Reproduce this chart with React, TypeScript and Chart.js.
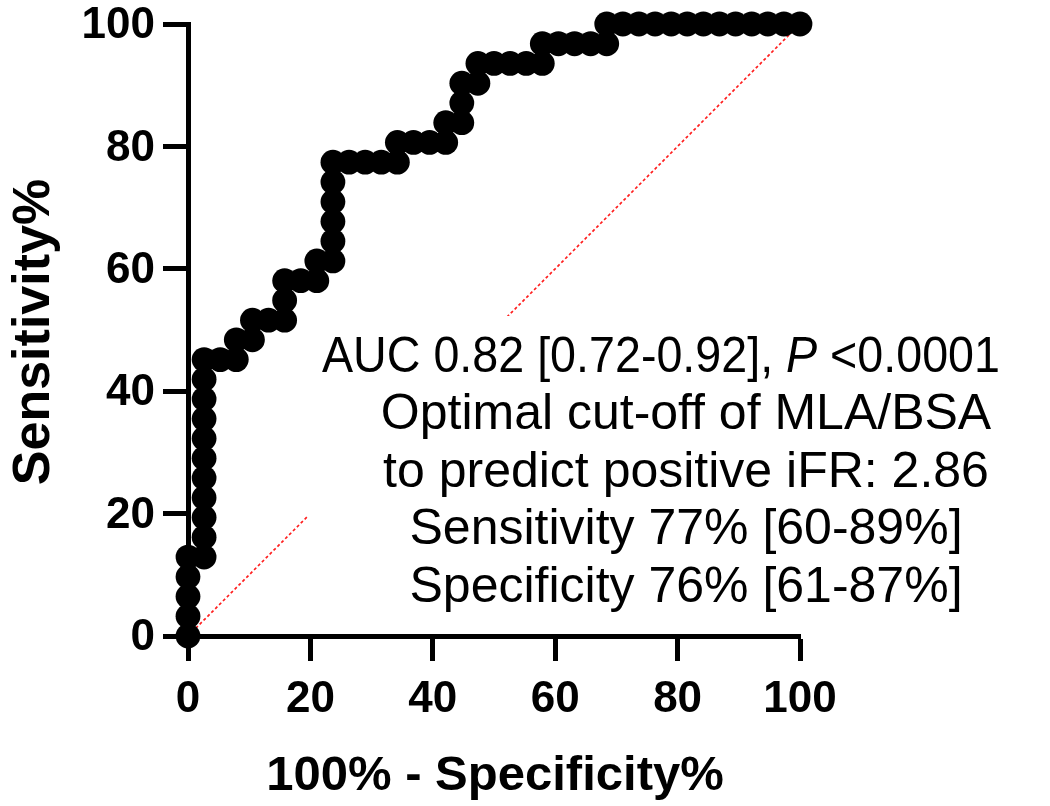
import React, { useEffect, useRef } from "react";
import { Chart, registerables } from "chart.js";

Chart.register(...registerables);

// 100% - Specificity% (x) for each ROC point
const fprPercent = [
  0, 0, 0, 0, 0,
  2.63, 2.63, 2.63, 2.63, 2.63, 2.63, 2.63, 2.63, 2.63, 2.63, 2.63,
  5.26, 7.89, 7.89, 10.53, 10.53, 13.16, 15.79, 15.79, 15.79,
  18.42, 21.05, 21.05,
  23.68, 23.68, 23.68, 23.68, 23.68, 23.68,
  26.32, 28.95, 31.58, 34.21, 34.21, 36.84, 39.47, 42.11, 42.11,
  44.74, 44.74, 44.74, 47.37, 47.37, 50, 52.63, 55.26, 57.89, 57.89,
  60.53, 63.16, 65.79, 68.42, 68.42,
  71.05, 73.68, 76.32, 78.95, 81.58, 84.21, 86.84, 89.47, 92.11, 94.74, 97.37, 100,
];

// Sensitivity% (y) for each ROC point
const sensPercent = [
  0, 3.23, 6.45, 9.68, 12.9,
  12.9, 16.13, 19.35, 22.58, 25.81, 29.03, 32.26, 35.48, 38.71, 41.94, 45.16,
  45.16, 45.16, 48.39, 48.39, 51.61, 51.61, 51.61, 54.84, 58.06,
  58.06, 58.06, 61.29,
  61.29, 64.52, 67.74, 70.97, 74.19, 77.42,
  77.42, 77.42, 77.42, 77.42, 80.65, 80.65, 80.65, 80.65, 83.87,
  83.87, 87.1, 90.32, 90.32, 93.55, 93.55, 93.55, 93.55, 93.55, 96.77,
  96.77, 96.77, 96.77, 96.77, 100,
  100, 100, 100, 100, 100, 100, 100, 100, 100, 100, 100, 100,
];

// line of identity (chance)
const chanceLine = [0, 100];

const axisMin = 0;
const axisMax = 100;
const tickStep = 20;

const xTitle = "100% - Specificity%";
const yTitle = "Sensitivity%";

const annotationFirstLine: [string, boolean][] = [
  ["AUC 0.82 [0.72-0.92], ", false],
  ["P", true],
  [" <0.0001", false],
];
const annotationLines = [
  "Optimal cut-off of MLA/BSA",
  "to predict positive iFR: 2.86",
  "Sensitivity 77% [60-89%]",
  "Specificity 76% [61-87%]",
];

const FONT = "'Liberation Sans', Arial, Helvetica, sans-serif";

const decorPlugin = {
  id: "decor",
  beforeDatasetsDraw(chart: any) {
    const ctx = chart.ctx as CanvasRenderingContext2D;
    const xs = chart.scales.x;
    const ys = chart.scales.y;
    // chance diagonal
    ctx.save();
    ctx.strokeStyle = "#ff1f1f";
    ctx.lineWidth = 1.7;
    ctx.setLineDash([3, 2.5]);
    ctx.beginPath();
    ctx.moveTo(xs.getPixelForValue(chanceLine[0]), ys.getPixelForValue(chanceLine[0]));
    ctx.lineTo(xs.getPixelForValue(chanceLine[1]), ys.getPixelForValue(chanceLine[1]));
    ctx.stroke();
    ctx.restore();

    // annotation box (white background)
    ctx.save();
    ctx.fillStyle = "#ffffff";
    ctx.fillRect(308, 316, 1050 - 308, 624 - 316);
    ctx.fillStyle = "#000";
    ctx.textBaseline = "alphabetic";
    const size = 50;
    const reg = `${size}px ${FONT}`;
    const ita = `italic ${size}px ${FONT}`;
    const base0 = 372;
    const step = 57.4;
    // first line with italic P, fitted to its width
    let total = 0;
    for (const [t, it] of annotationFirstLine) {
      ctx.font = it ? ita : reg;
      total += ctx.measureText(t).width;
    }
    const targetW = 678;
    const sx = targetW / total;
    ctx.save();
    ctx.translate(661 - targetW / 2, base0);
    ctx.scale(sx, 1);
    let x = 0;
    ctx.textAlign = "left";
    for (const [t, it] of annotationFirstLine) {
      ctx.font = it ? ita : reg;
      ctx.fillText(t, x, 0);
      x += ctx.measureText(t).width;
    }
    ctx.restore();
    ctx.font = reg;
    ctx.textAlign = "center";
    annotationLines.forEach((line, i) => {
      ctx.fillText(line, 686, base0 + step * (i + 1));
    });
    ctx.restore();
  },
  afterDraw(chart: any) {
    const ctx = chart.ctx as CanvasRenderingContext2D;
    const area = chart.chartArea;
    ctx.save();
    ctx.fillStyle = "#000";
    ctx.textAlign = "center";
    ctx.textBaseline = "alphabetic";
    ctx.font = `bold 49px ${FONT}`;
    ctx.fillText(xTitle, (area.left + area.right) / 2 + 1, 790);
    ctx.font = `bold 52px ${FONT}`;
    ctx.translate(49, (area.top + area.bottom) / 2 + 2);
    ctx.rotate(-Math.PI / 2);
    ctx.fillText(yTitle, 0, 0);
    ctx.restore();
  },
};

export default function App() {
  const canvasRef = useRef<HTMLCanvasElement | null>(null);

  useEffect(() => {
    if (!canvasRef.current) return;
    const tickFont = { family: FONT, size: 44, weight: "bold" as const };
    const chart = new Chart(canvasRef.current, {
      type: "scatter",
      data: {
        datasets: [
          {
            data: fprPercent.map((x, i) => ({ x, y: sensPercent[i] })),
            backgroundColor: "#000",
            borderColor: "#000",
            borderWidth: 0,
            pointRadius: 12.4,
            pointHoverRadius: 12.4,
            showLine: false,
            clip: false as any,
          },
        ],
      },
      options: {
        animation: false,
        responsive: false,
        devicePixelRatio: 1,
        events: [],
        layout: { padding: { left: 0, top: 24, right: 250, bottom: 0 } },
        plugins: {
          legend: { display: false },
          tooltip: { enabled: false },
        },
        scales: {
          x: {
            type: "linear",
            min: axisMin,
            max: axisMax,
            afterFit: (s: any) => {
              s.height = 170;
              s.paddingLeft = 0;
              s.paddingRight = 0;
            },
            ticks: {
              stepSize: tickStep,
              font: tickFont,
              color: "#000",
              padding: 12,
              maxRotation: 0,
              autoSkip: false,
            },
            grid: {
              display: true,
              drawOnChartArea: false,
              drawTicks: true,
              tickLength: 25,
              tickWidth: 5,
              tickColor: "#000",
            },
            border: { display: true, color: "#000", width: 5 },
          },
          y: {
            type: "linear",
            min: axisMin,
            max: axisMax,
            afterFit: (s: any) => {
              s.width = 188;
              s.paddingTop = 0;
              s.paddingBottom = 0;
            },
            ticks: {
              stepSize: tickStep,
              font: tickFont,
              color: "#000",
              padding: 8,
              labelOffset: 2,
              autoSkip: false,
            },
            grid: {
              display: true,
              drawOnChartArea: false,
              drawTicks: true,
              tickLength: 25,
              tickWidth: 5,
              tickColor: "#000",
            },
            border: { display: true, color: "#000", width: 5 },
          },
        },
      },
      plugins: [decorPlugin],
    });
    return () => chart.destroy();
  }, []);

  return (
    <div style={{ position: "absolute", left: 0, top: 0, width: 1050, height: 806, background: "#fff" }}>
      <canvas ref={canvasRef} width={1050} height={806} style={{ display: "block" }} />
    </div>
  );
}
